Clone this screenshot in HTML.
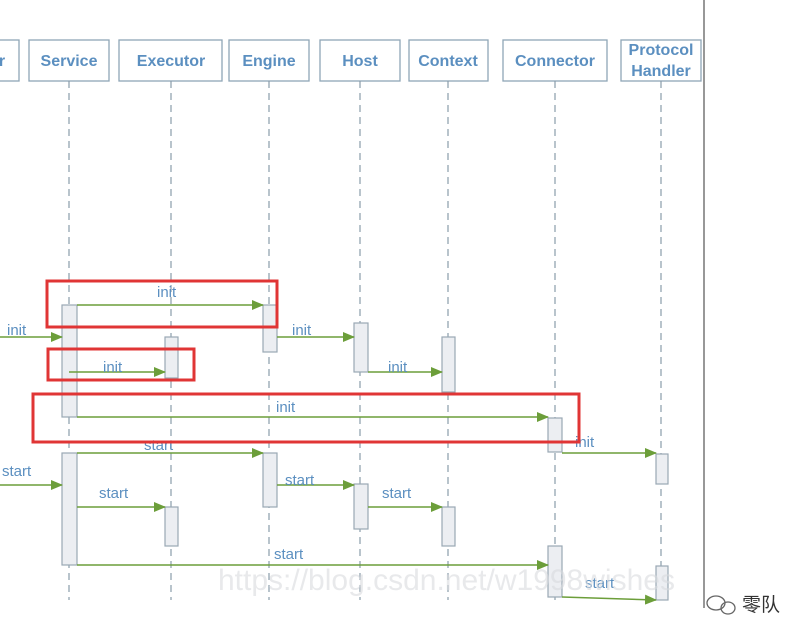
<!DOCTYPE html>
<html><head><meta charset="utf-8"><style>
html,body{margin:0;padding:0;background:#fff;width:807px;height:638px;overflow:hidden}
svg{display:block}
.hd{font-family:"Liberation Sans",sans-serif;font-weight:bold;font-size:16px;fill:#5b8fc0}
.lb{font-family:"Liberation Sans",sans-serif;font-size:15px;fill:#5b8fc0}
</style></head><body>
<svg width="807" height="638" viewBox="0 0 807 638" xmlns="http://www.w3.org/2000/svg">
<defs><marker id="a" markerWidth="12" markerHeight="10" refX="11" refY="5" orient="auto" markerUnits="userSpaceOnUse"><path d="M0,0 L12,5 L0,10 z" fill="#6c9e3a"/></marker></defs>
<line x1="704" y1="0" x2="704" y2="608" stroke="#777" stroke-width="1.5"/>
<g fill="#fff" stroke="#8fa6b6" stroke-width="1.3">
<rect x="-10" y="40" width="29" height="41"/>
<rect x="29" y="40" width="80" height="41"/>
<rect x="119" y="40" width="103" height="41"/>
<rect x="229" y="40" width="80" height="41"/>
<rect x="320" y="40" width="80" height="41"/>
<rect x="409" y="40" width="79" height="41"/>
<rect x="503" y="40" width="104" height="41"/>
<rect x="621" y="40" width="80" height="41"/>
</g>
<g class="hd" text-anchor="middle">
<text x="2" y="66">r</text>
<text x="69" y="66">Service</text>
<text x="171" y="66">Executor</text>
<text x="269" y="66">Engine</text>
<text x="360" y="66">Host</text>
<text x="448" y="66">Context</text>
<text x="555" y="66">Connector</text>
<text x="661" y="55">Protocol</text>
<text x="661" y="76">Handler</text>
</g>
<g stroke="#8a9cab" stroke-width="1.2" stroke-dasharray="7,5">
<line x1="69" y1="81" x2="69" y2="600"/>
<line x1="171" y1="81" x2="171" y2="600"/>
<line x1="269" y1="81" x2="269" y2="600"/>
<line x1="360" y1="81" x2="360" y2="600"/>
<line x1="448" y1="81" x2="448" y2="600"/>
<line x1="555" y1="81" x2="555" y2="600"/>
<line x1="661" y1="81" x2="661" y2="600"/>
</g>
<g fill="#eceef2" stroke="#9aa8b4" stroke-width="1.2">
<rect x="62" y="305" width="15" height="112"/>
<rect x="62" y="453" width="15" height="112"/>
<rect x="165" y="337" width="13" height="41"/>
<rect x="165" y="507" width="13" height="39"/>
<rect x="263" y="305" width="14" height="47"/>
<rect x="263" y="453" width="14" height="54"/>
<rect x="354" y="323" width="14" height="49"/>
<rect x="354" y="484" width="14" height="45"/>
<rect x="442" y="337" width="13" height="55"/>
<rect x="442" y="507" width="13" height="39"/>
<rect x="548" y="418" width="14" height="34"/>
<rect x="548" y="546" width="14" height="51"/>
<rect x="656" y="454" width="12" height="30"/>
<rect x="656" y="566" width="12" height="34"/>
</g>
<g stroke="#6c9e3a" stroke-width="1.5" marker-end="url(#a)">
<line x1="77" y1="305" x2="263" y2="305"/>
<line x1="0" y1="337" x2="62" y2="337"/>
<line x1="277" y1="337" x2="354" y2="337"/>
<line x1="69" y1="372" x2="165" y2="372"/>
<line x1="368" y1="372" x2="442" y2="372"/>
<line x1="77" y1="417" x2="548" y2="417"/>
<line x1="562" y1="453" x2="656" y2="453"/>
<line x1="77" y1="453" x2="263" y2="453"/>
<line x1="0" y1="485" x2="62" y2="485"/>
<line x1="277" y1="485" x2="354" y2="485"/>
<line x1="77" y1="507" x2="165" y2="507"/>
<line x1="368" y1="507" x2="442" y2="507"/>
<line x1="77" y1="565" x2="548" y2="565"/>
<line x1="562" y1="597" x2="656" y2="600"/>
</g>
<g class="lb">
<text x="157" y="297">init</text>
<text x="7" y="335">init</text>
<text x="292" y="335">init</text>
<text x="103" y="372">init</text>
<text x="388" y="372">init</text>
<text x="276" y="412">init</text>
<text x="575" y="447">init</text>
<text x="144" y="450">start</text>
<text x="2" y="476">start</text>
<text x="285" y="485">start</text>
<text x="99" y="498">start</text>
<text x="382" y="498">start</text>
<text x="274" y="559">start</text>
<text x="585" y="588">start</text>
</g>
<text x="218" y="590" font-family="Liberation Sans,sans-serif" font-size="30" fill="#d8dadd" fill-opacity="0.6">https://blog.csdn.net/w1998wishes</text>
<g fill="none" stroke="#666" stroke-width="1.3">
<ellipse cx="716" cy="603" rx="9" ry="7"/>
<ellipse cx="728" cy="608" rx="7" ry="6"/>
</g>
<text x="742" y="611" font-family="'Liberation Sans','Noto Sans CJK SC',sans-serif" font-size="19" fill="#333">零队</text>
<g fill="none" stroke="#e03535" stroke-width="3">
<rect x="47" y="281" width="230" height="46"/>
<rect x="48" y="349" width="146" height="31"/>
<rect x="33" y="394" width="546" height="48"/>
</g>
</svg>
</body></html>
